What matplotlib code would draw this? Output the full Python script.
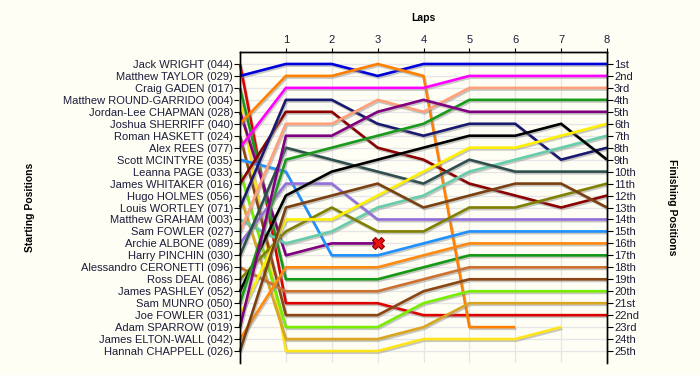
import matplotlib
matplotlib.use("Agg")
import matplotlib.pyplot as plt
import matplotlib.patheffects as pe
import numpy as np

drivers = ["Jack WRIGHT (044)", "Matthew TAYLOR (029)", "Craig GADEN (017)",
           "Matthew ROUND-GARRIDO (004)", "Jordan-Lee CHAPMAN (028)", "Joshua SHERRIFF (040)",
           "Roman HASKETT (024)", "Alex REES (077)", "Scott MCINTYRE (035)", "Leanna PAGE (033)",
           "James WHITAKER (016)", "Hugo HOLMES (056)", "Louis WORTLEY (071)",
           "Matthew GRAHAM (003)", "Sam FOWLER (027)", "Archie ALBONE (089)",
           "Harry PINCHIN (030)", "Alessandro CERONETTI (096)", "Ross DEAL (086)",
           "James PASHLEY (052)", "Sam MUNRO (050)", "Joe FOWLER (031)",
           "Adam SPARROW (019)", "James ELTON-WALL (042)", "Hannah CHAPPELL (026)"]

# positions at lap 0..8 (shorter list = retired)
positions = [
    [1, 21, 21, 21, 22, 22, 22, 22, 22],
    [2, 1, 1, 2, 1, 1, 1, 1, 1],
    [3, 19, 19, 19, 18, 17, 17, 17, 17],
    [4, 25, 25, 25, 24, 24, 24, 23],
    [5, 17, 16, 16],
    [6, 2, 2, 1, 2, 23, 23],
    [7, 22, 22, 22, 20, 19, 19, 19, 19],
    [8, 3, 3, 3, 3, 2, 2, 2, 2],
    [9, 10, 17, 17, 16, 15, 15, 15, 15],
    [10, 23, 23, 23, 21, 20, 20, 20, 20],
    [11, 5, 5, 8, 9, 11, 12, 13, 12],
    [12, 24, 24, 24, 23, 21, 21, 21, 21],
    [13, 4, 4, 6, 7, 6, 6, 9, 8],
    [14, 16, 15, 13, 12, 10, 9, 8, 7],
    [15, 6, 6, 4, 5, 3, 3, 3, 3],
    [16, 11, 11, 14, 14, 14, 14, 14, 14],
    [17, 8, 9, 10, 11, 9, 10, 10, 10],
    [18, 20, 20, 20, 19, 18, 18, 18, 18],
    [19, 15, 13, 15, 15, 13, 13, 12, 11],
    [20, 12, 10, 9, 8, 7, 7, 6, 9],
    [21, 9, 8, 7, 6, 4, 4, 4, 4],
    [22, 14, 14, 12, 10, 8, 8, 7, 6],
    [23, 7, 7, 5, 4, 5, 5, 5, 5],
    [24, 18, 18, 18, 17, 16, 16, 16, 16],
    [25, 13, 12, 11, 13, 12, 11, 11, 13],
]
colors = ["#DD0000", "#0000DD", "#159915", "#FFE41A", "#800080", "#FF8000",
          "#8B4513", "#FF00FF", "#1E90FF", "#77EE00", "#8B0000", "#DAA520",
          "#191970", "#66CDAA", "#FFA07A", "#9370DB", "#2F4F4F", "#CD7030",
          "#808000", "#000000", "#1A9A1A", "#FFF000", "#800080", "#FF8A10", "#7A4010"]
retired_x = {4: 3}  # driver index -> lap of X marker
laps = list(range(0, 9))
finish_labels = ["1st", "2nd", "3rd"] + [f"{i}th" for i in range(4, 21)] + ["21st", "22nd", "23rd", "24th", "25th"]

bg = "#FEFEF4"
txt = "#1C1C3C"
fig = plt.figure(figsize=(7, 3.75), dpi=100, facecolor=bg)
ax = fig.add_axes([240/700, 1-363/375, (607-240)/700, (363-52)/375], facecolor=bg)
ax.set_xlim(0, 8)
ax.set_ylim(26, 0)

for y in range(1, 26):
    ax.axhline(y, color="#E6E6E6", lw=0.9, zorder=0)
for x in laps[1:-1]:
    ax.axvline(x, color="#E6E6E6", lw=0.9, zorder=0)

for i, pos in enumerate(positions):
    xs = laps[:len(pos)]
    ax.plot(xs, pos, color=colors[i], lw=1.9, solid_capstyle="butt", clip_on=False,
            path_effects=[pe.SimpleLineShadow(offset=(0.8, -1.2), shadow_color="#888888", alpha=0.45),
                          pe.Normal()], zorder=2)
    if i in retired_x:
        lp = retired_x[i]
        ax.plot([lp], [pos[lp]], marker="X", ms=8, color="#EE1111", mec="#880000", mew=0.8, zorder=4)

lab_font = dict(family="Liberation Sans", size=8, color=txt)
ax.set_yticks(range(1, 26))
ax.set_yticklabels(drivers, **lab_font)
ax.xaxis.tick_top()
ax.set_xticks(laps[1:])
ax.set_xticklabels([str(l) for l in laps[1:]], **lab_font)
ax.tick_params(axis="x", length=3, pad=2)
ax.tick_params(axis="y", length=4, pad=1)

ax2 = ax.twinx()
ax2.set_ylim(26, 0)
ax2.set_yticks(range(1, 26))
ax2.set_yticklabels(finish_labels, **lab_font)
ax2.tick_params(axis="y", length=4, pad=1)

for a in (ax, ax2):
    a.spines["bottom"].set_visible(False)
    for s in ("top", "left", "right"):
        a.spines[s].set_linewidth(1.0)

fig.text(423/700, 1-18/375, "Laps", ha="center", va="center", fontsize=7.5, fontweight="bold", family="Liberation Sans")
fig.text(30/700, 1-207/375, "Starting Positions", ha="center", va="center", rotation=90,
         fontsize=7.5, fontweight="bold", family="Liberation Sans")
fig.text(672/700, 1-207/375, "Finishing Positions", ha="center", va="center", rotation=270,
         fontsize=7.5, fontweight="bold", family="Liberation Sans")

fig.savefig("out.png", dpi=100, facecolor=bg)
